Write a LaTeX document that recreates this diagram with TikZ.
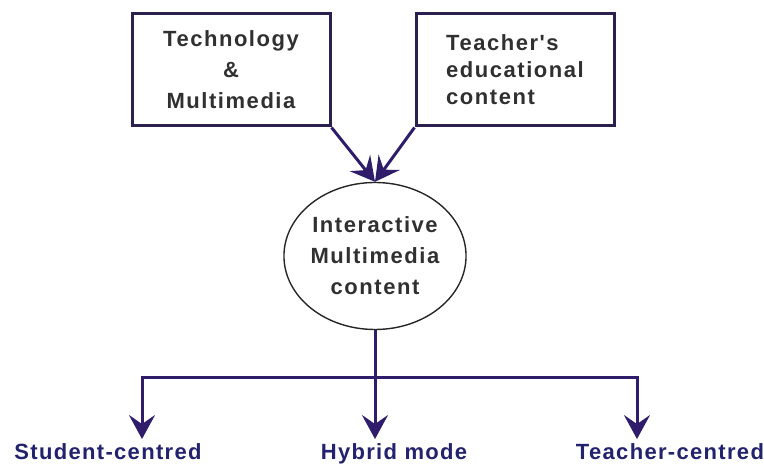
\documentclass[tikz,border=0pt]{standalone}
\usepackage{fontspec}
\usepackage{tikz}
\usetikzlibrary{shapes.geometric,arrows.meta,positioning}
\newfontfamily\boxfont[LetterSpace=7]{Liberation Sans}
\newfontfamily\modefont[LetterSpace=6]{Liberation Sans}
\definecolor{BoxLine}{HTML}{2D1F4E}
\definecolor{ArrowLine}{HTML}{2F1C6A}
\definecolor{ModeText}{HTML}{22226E}
\definecolor{BodyText}{HTML}{303030}
\tikzstyle{Source} = [draw=BoxLine, line width=3pt, rectangle, minimum width=198pt, minimum height=112pt, text=BodyText, font={\boxfont\bfseries\fontsize{22}{31}\selectfont}]
\tikzstyle{Content} = [draw=black!85, line width=1.4pt, ellipse, minimum width=173pt, minimum height=147pt, inner sep=0pt, align=center, text=BodyText, font={\boxfont\bfseries\fontsize{22}{31}\selectfont}]
\tikzstyle{Mode} = [inner sep=0pt, outer sep=4pt, anchor=base, text=ModeText, font={\modefont\bfseries\fontsize{22}{26}\selectfont}]
\tikzstyle{Link} = [draw=ArrowLine, line width=3pt, -{Stealth[length=24pt, width=26pt, inset=9pt]}]

\begin{document}
\begin{tikzpicture}[x=1pt, y=-1pt]
    \useasboundingbox (0,0) rectangle (764,465);
    \node[Source, align=center] (tech)    at (231,70) {Technology\\\&\\Multimedia};
    \node[Source, align=left, font={\boxfont\bfseries\fontsize{22}{27}\selectfont}]
                                (teacher) at (515,70) {Teacher's\\educational\\content};
    \node[Content]              (imc)     at (375,256) {Interactive\\Multimedia\\content};
    \node[Mode] (student) at (108,459) {Student-centred};
    \node[Mode] (hybrid)  at (394,459) {Hybrid mode};
    \node[Mode] (teach_c) at (670,459) {Teacher-centred};
    \coordinate (bus) at (375,378);
    \draw[Link] (tech.south east)   -- (imc.north);
    \draw[Link] (teacher.south west) -- (imc.north);
    \draw[Link] (imc.south) -- ([xshift=-19pt]hybrid.north);
    \draw[Link] (bus) -| ([xshift=34pt]student.north);
    \draw[Link] (bus) -| ([xshift=-33pt]teach_c.north);
  \end{tikzpicture}
\end{document}
